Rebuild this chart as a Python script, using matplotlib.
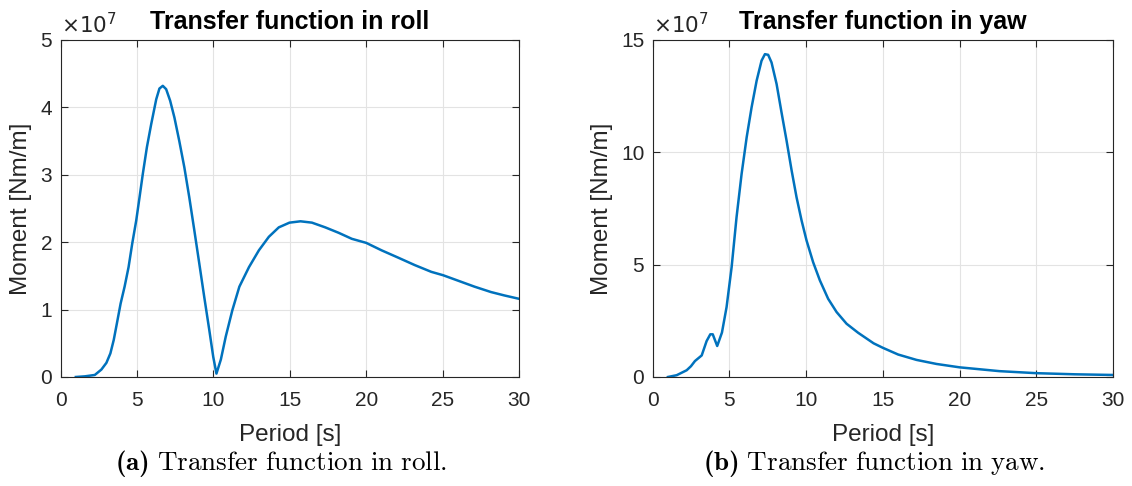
import matplotlib
matplotlib.use("Agg")
import matplotlib.pyplot as plt

# values, moment in units of 1e7 Nm/m
roll_period = [1.0, 1.6, 2.24, 2.67, 3.0, 3.26, 3.48, 3.69, 3.93, 4.19, 4.45, 4.69, 4.95,
               5.17, 5.38, 5.65, 5.93, 6.26, 6.47, 6.69, 6.91, 7.17, 7.45, 7.77, 8.1, 8.42,
               8.75, 9.08, 9.4, 9.73, 9.99, 10.2, 10.49, 10.81, 11.24, 11.7, 12.33, 12.98,
               13.63, 14.28, 14.98, 15.7, 16.45, 17.32, 18.19, 19.06, 20.0, 21.0, 22.1,
               23.18, 24.26, 25.03, 26.0, 27.09, 28.17, 29.04, 30.0]
roll_moment = [0.0, 0.01, 0.03, 0.11, 0.21, 0.35, 0.55, 0.8, 1.09, 1.34, 1.63, 1.98, 2.32,
               2.67, 3.01, 3.41, 3.75, 4.12, 4.28, 4.32, 4.27, 4.1, 3.85, 3.5, 3.11, 2.67,
               2.18, 1.68, 1.19, 0.7, 0.3, 0.05, 0.26, 0.6, 0.99, 1.34, 1.63, 1.88, 2.08,
               2.22, 2.29, 2.31, 2.29, 2.22, 2.14, 2.05, 1.99, 1.88, 1.77, 1.66, 1.56, 1.51,
               1.43, 1.34, 1.26, 1.21, 1.16]

yaw_period = [1.0, 1.57, 2.22, 2.5, 2.76, 3.2, 3.52, 3.76, 3.92, 4.21, 4.52, 4.82, 5.15,
              5.47, 5.8, 6.13, 6.45, 6.78, 7.1, 7.32, 7.53, 7.75, 8.08, 8.4, 8.73, 9.06,
              9.38, 9.71, 10.03, 10.46, 10.9, 11.44, 11.99, 12.64, 13.39, 14.4, 15.0, 16.0,
              17.2, 18.5, 20.0, 22.6, 25.0, 27.5, 30.0]
yaw_moment = [0.0, 0.08, 0.3, 0.48, 0.71, 0.96, 1.6, 1.9, 1.9, 1.38, 1.98, 3.11, 4.89,
              7.11, 9.04, 10.67, 12.0, 13.19, 14.08, 14.37, 14.34, 14.0, 13.04, 11.78,
              10.52, 9.19, 8.0, 6.96, 6.08, 5.11, 4.3, 3.48, 2.89, 2.37, 1.97, 1.5, 1.3,
              1.0, 0.76, 0.58, 0.43, 0.26, 0.17, 0.12, 0.09]

panels = [
    (roll_period, roll_moment, "Transfer function in roll", [0, 1, 2, 3, 4, 5], 5,
     r"$\mathbf{(a)}\ \mathrm{Transfer\ function\ in\ roll.}$"),
    (yaw_period, yaw_moment, "Transfer function in yaw", [0, 5, 10, 15], 15,
     r"$\mathbf{(b)}\ \mathrm{Transfer\ function\ in\ yaw.}$"),
]

plt.rcParams['font.family'] = ['Liberation Sans', 'DejaVu Sans']
# latex-like captions: computer modern roman + bold
plt.rcParams['mathtext.fontset'] = 'custom'
plt.rcParams['mathtext.rm'] = 'cmr10'
plt.rcParams['mathtext.bf'] = 'cmb10'
plt.rcParams['mathtext.it'] = 'cmmi10'

dark = '#262626'
fig = plt.figure(figsize=(11.32, 4.86), dpi=100)
positions = [[0.0535, 0.2243, 0.4050, 0.6934], [0.5765, 0.2243, 0.4067, 0.6934]]

for pos, (per, mom, title, yticks, ymax, caption) in zip(positions, panels):
    ax = fig.add_axes(pos)
    ax.plot(per, mom, color='#0072BD', lw=1.8)
    ax.set_xlim(0, 30)
    ax.set_ylim(0, ymax)
    ax.set_xticks([0, 5, 10, 15, 20, 25, 30])
    ax.set_yticks(yticks)
    ax.grid(True, color='#e3e3e3', lw=0.8)
    ax.set_axisbelow(True)
    for s in ax.spines.values():
        s.set_color(dark)
        s.set_linewidth(0.8)
    ax.tick_params(direction='in', length=5, width=0.8, colors=dark, labelsize=15,
                   top=True, right=True, pad=10)
    ax.tick_params(axis='y', pad=6)
    ax.set_xlabel("Period [s]", fontsize=17.5, color=dark, labelpad=10)
    ax.set_ylabel("Moment [Nm/m]", fontsize=17.5, color=dark, labelpad=6)
    ax.set_title(title, fontsize=18, fontweight='bold', pad=8)
    ax.text(0.0, 1.008, r"$\times10^{7}$", transform=ax.transAxes, fontsize=15.5,
            color=dark, ha='left', va='bottom', family='DejaVu Sans',
            math_fontfamily='dejavusans')
    # captions sit a little left of the axes centre
    fig.text(pos[0] + pos[2] / 2 - 0.008, 0.047, caption, ha='center', va='center',
             fontsize=19.5)

fig.savefig("out.png", dpi=100)
